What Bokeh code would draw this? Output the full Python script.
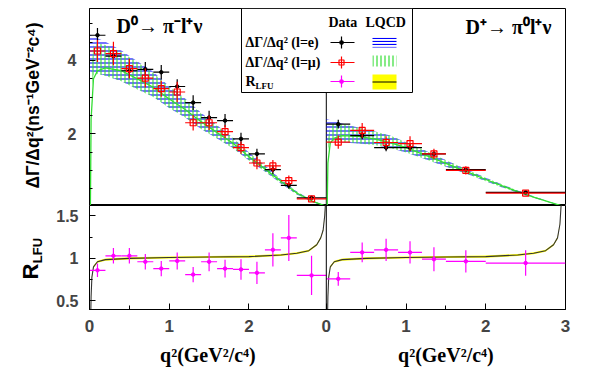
import math
import numpy as np
from bokeh.plotting import figure
from bokeh.models import Range1d, FixedTicker, CustomJSTickFormatter, Span
from bokeh.layouts import column, row
from bokeh.core.properties import value
from bokeh.embed import file_html
from bokeh.resources import INLINE

# ---------------- data ----------------
XL_MAX = 2.97   # q2 max of the D0 panel
XR_MAX = 3.0    # q2 max of the D+ panel

# D0 -> pi- l+ nu
D0_EDGES = [0.0, 0.2, 0.4, 0.6, 0.8, 1.0, 1.2, 1.4, 1.6, 1.8, 2.0, 2.2, 2.4, 2.6, 2.97]
D0_E_RATE = [4.69, 4.12, 3.72, 3.76, 3.68, 3.29, 2.85, 2.44, 2.36, 1.86, 1.45, 1.02, 0.59, 0.25]
D0_E_ERR = [0.20, 0.20, 0.20, 0.20, 0.20, 0.20, 0.20, 0.19, 0.18, 0.17, 0.14, 0.12, 0.09, 0.04]
D0_MU_RATE = [4.26, 4.19, 3.78, 3.52, 3.23, 3.14, 2.30, 2.30, 2.06, 1.62, 1.20, 1.12, 0.72, 0.22]
D0_MU_ERR = [0.30, 0.32, 0.27, 0.26, 0.22, 0.28, 0.21, 0.20, 0.18, 0.17, 0.17, 0.16, 0.14, 0.05]
D0_R = [0.86, 1.03, 1.03, 0.96, 0.88, 0.97, 0.81, 0.96, 0.88, 0.87, 0.83, 1.10, 1.24, 0.80]
D0_R_ERR = [0.08, 0.09, 0.09, 0.09, 0.09, 0.10, 0.09, 0.11, 0.105, 0.12, 0.13, 0.195, 0.27, 0.23]

# D+ -> pi0 l+ nu
DP_EDGES = [0.0, 0.3, 0.6, 0.9, 1.2, 1.5, 2.0, 3.0]
DP_E_RATE = [2.26, 1.95, 1.62, 1.62, 1.45, 1.02, 0.40]
DP_E_ERR = [0.12, 0.10, 0.10, 0.10, 0.08, 0.06, 0.02]
DP_MU_RATE = [1.77, 2.09, 1.76, 1.73, 1.45, 1.00, 0.38]
DP_MU_ERR = [0.18, 0.20, 0.17, 0.20, 0.14, 0.11, 0.03]
DP_R = [0.76, 1.07, 1.10, 1.07, 0.99, 0.965, 0.945]
DP_R_ERR = [0.08, 0.117, 0.13, 0.13, 0.14, 0.13, 0.15]

# LQCD predictions, D0 panel
LQ_D0_Q2 = [0.0, 0.2, 0.4, 0.6, 0.8, 1.0, 1.2, 1.4, 1.6, 1.8, 2.0, 2.2, 2.4, 2.6, 2.8, 2.97]
LQ_D0_E = [4.2, 4.05, 3.85, 3.6, 3.35, 3.0, 2.7, 2.35, 2.05, 1.75, 1.38, 1.05, 0.7, 0.38, 0.15, 0.02]
LQ_D0_E_ERR = [0.5, 0.46, 0.42, 0.38, 0.34, 0.3, 0.26, 0.22, 0.18, 0.14, 0.11, 0.08, 0.06, 0.04, 0.02, 0.0]
LQ_D0_MU_Q2 = [0.0112, 0.02, 0.05, 0.1, 0.2, 0.4, 0.6, 0.8, 1.0, 1.2, 1.4, 1.6, 1.8, 2.0, 2.2, 2.4, 2.6, 2.8, 2.97]
LQ_D0_MU_BAND = [0.0, 3.4, 4.0, 4.05, 4.0, 3.83, 3.58, 3.33, 2.99, 2.69, 2.34, 2.04, 1.74, 1.38, 1.05, 0.7, 0.38, 0.15, 0.02]
LQ_D0_MU_ERR = [0.0, 0.3, 0.4, 0.42, 0.42, 0.4, 0.37, 0.33, 0.29, 0.25, 0.21, 0.17, 0.14, 0.11, 0.08, 0.06, 0.04, 0.02, 0.0]
LQ_D0_MU_LINE = [0.0, 2.4, 3.5, 3.72, 3.8, 3.72, 3.5, 3.27, 2.95, 2.66, 2.33, 2.03, 1.74, 1.37, 1.04, 0.7, 0.38, 0.15, 0.02]

# LQCD predictions, D+ panel
LQ_DP_Q2 = [0.0, 0.1, 0.2, 0.4, 0.6, 0.8, 1.0, 1.2, 1.4, 1.6, 1.8, 2.0, 2.2, 2.4, 2.6, 2.8, 3.0]
LQ_DP_E = [2.1, 2.06, 2.02, 1.95, 1.88, 1.78, 1.63, 1.46, 1.28, 1.1, 0.93, 0.75, 0.58, 0.42, 0.27, 0.13, 0.0]
LQ_DP_E_ERR = [0.3, 0.28, 0.26, 0.22, 0.19, 0.17, 0.14, 0.12, 0.1, 0.08, 0.06, 0.05, 0.04, 0.03, 0.02, 0.01, 0.0]
LQ_DP_MU_Q2 = [0.0112, 0.02, 0.05, 0.1, 0.2, 0.4, 0.6, 0.8, 1.0, 1.2, 1.4, 1.6, 1.8, 2.0, 2.2, 2.4, 2.6, 2.8, 3.0]
LQ_DP_MU_BAND = [0.0, 1.7, 2.0, 2.05, 2.02, 1.95, 1.88, 1.78, 1.63, 1.46, 1.28, 1.1, 0.93, 0.75, 0.58, 0.42, 0.27, 0.13, 0.0]
LQ_DP_MU_ERR = [0.0, 0.15, 0.22, 0.24, 0.24, 0.22, 0.19, 0.17, 0.14, 0.12, 0.1, 0.08, 0.06, 0.05, 0.04, 0.03, 0.02, 0.01, 0.0]
LQ_DP_MU_LINE = [0.0, 1.2, 1.75, 1.88, 1.95, 1.93, 1.86, 1.76, 1.62, 1.45, 1.28, 1.1, 0.93, 0.75, 0.58, 0.42, 0.27, 0.13, 0.0]

# LQCD R_LFU
RL_D0_Q2 = [0.0112, 0.015, 0.02, 0.03, 0.05, 0.1, 0.2, 0.5, 1.0, 1.5, 2.0, 2.4, 2.6, 2.75, 2.85, 2.9, 2.93, 2.95, 2.97]
RL_D0 = [0.0, 0.3, 0.55, 0.78, 0.9, 0.96, 0.985, 1.0, 1.01, 1.015, 1.02, 1.04, 1.06, 1.09, 1.16, 1.24, 1.33, 1.5, 1.8]
RL_DP_Q2 = [0.0112, 0.015, 0.02, 0.03, 0.05, 0.1, 0.2, 0.5, 1.0, 1.5, 2.0, 2.4, 2.6, 2.75, 2.85, 2.9, 2.93, 2.95, 2.97]
RL_DP = [0.0, 0.3, 0.55, 0.78, 0.9, 0.96, 0.985, 1.0, 1.01, 1.015, 1.02, 1.04, 1.06, 1.09, 1.16, 1.24, 1.4, 1.7, 2.0]
RL_ERR = 0.012

X_TICKS_LEFT = [0, 1, 2]
X_TICKS_RIGHT = [0, 1, 2, 3]

# ---------------- styles / geometry ----------------
BLACK = "#000000"
RED = "#ff0000"
MAGENTA = "#ff00ff"
BLUE = "#0000ff"
GREEN = "#33dd33"
YELLOW = "#ffff00"
SANS = "Liberation Sans"
SERIF = "Liberation Serif"

STRIP_W = 50          # left strip holding the y titles
FRAME_W = 476
TOP_FRAME_H = 197
TOP_PAD = 8
BOT_FRAME_H = 104
BOT_BELOW = 32
XT_H = 32
LEFT_BORDER = 39
RIGHT_BORDER = 20
MAIN_W = LEFT_BORDER + FRAME_W + RIGHT_BORDER


def style_fig(p):
    p.grid.visible = False
    p.outline_line_color = BLACK
    p.outline_line_width = 1
    p.outline_line_alpha = 1
    p.background_fill_color = "white"
    p.border_fill_color = "white"


def strip(w, h, x_range=None, min_left=0, min_right=0):
    s = figure(width=w, height=h, x_range=x_range if x_range is not None else Range1d(0, w),
               y_range=Range1d(h, 0), output_backend="svg", toolbar_location=None,
               x_axis_location=None, y_axis_location=None, min_border_left=min_left,
               min_border_right=min_right, min_border_top=0, min_border_bottom=0)
    s.grid.visible = False
    s.outline_line_color = None
    s.background_fill_color = "white"
    s.border_fill_color = "white"
    return s


def arrs(edges):
    e = np.asarray(edges, dtype=float)
    return e[:-1], e[1:], 0.5 * (e[:-1] + e[1:])


def errbars(p, edges, vals, errs, color, rname="default", marker="circle", size=3.5, fill=True):
    lo, hi, c = arrs(edges)
    v = np.asarray(vals)
    er = np.asarray(errs)
    kw = {} if rname == "default" else {"x_range_name": rname}
    p.segment(x0=lo, y0=v, x1=hi, y1=v, line_color=color, line_width=1.2, **kw)
    p.segment(x0=c, y0=v - er, x1=c, y1=v + er, line_color=color, line_width=1.2, **kw)
    if fill:
        p.scatter(x=c, y=v, marker=marker, size=size, fill_color=color, line_color=color, **kw)
    else:
        p.scatter(x=c, y=v, marker=marker, size=size, fill_color=None, line_color=color,
                  line_width=1.2, **kw)


# ---------------- top figure ----------------
top = figure(width=MAIN_W, height=TOP_FRAME_H + TOP_PAD, x_range=Range1d(0, XL_MAX + XR_MAX),
             y_range=Range1d(0.04, 5.42), output_backend="svg", toolbar_location=None,
             x_axis_location=None, min_border_left=LEFT_BORDER, min_border_right=RIGHT_BORDER,
             min_border_top=TOP_PAD, min_border_bottom=0)
style_fig(top)
top.extra_x_ranges = {"R": Range1d(-XL_MAX, XR_MAX), "px": Range1d(0, FRAME_W)}
top.extra_y_ranges = {"py": Range1d(0, TOP_FRAME_H)}

yax = top.yaxis[0]
yax.ticker = FixedTicker(ticks=[2, 4], minor_ticks=[0.5 * i for i in range(1, 11)])
yax.major_tick_in = 6
yax.major_tick_out = 0
yax.minor_tick_in = 3
yax.minor_tick_out = 0
yax.major_label_text_font = SANS
yax.major_label_text_font_style = "bold"
yax.major_label_text_font_size = "16px"
yax.major_label_standoff = 13
yax.axis_line_color = BLACK

top.add_layout(Span(location=XL_MAX, dimension="height", line_color=BLACK, line_width=1,
                    level="underlay"))

# LQCD bands: D0
q = np.asarray(LQ_D0_Q2); c = np.asarray(LQ_D0_E); e = np.asarray(LQ_D0_E_ERR)
top.varea(x=q, y1=c - e, y2=c + e, fill_alpha=0, hatch_pattern="horizontal_line",
          hatch_color=BLUE, hatch_scale=4, hatch_weight=1.1)
q = np.asarray(LQ_D0_MU_Q2); c = np.asarray(LQ_D0_MU_BAND); e = np.asarray(LQ_D0_MU_ERR)
top.varea(x=q, y1=c - e, y2=c + e, fill_alpha=0, hatch_pattern="vertical_line",
          hatch_color=GREEN, hatch_scale=4, hatch_weight=1.1)
top.line(x=LQ_D0_MU_Q2, y=LQ_D0_MU_LINE, line_color=GREEN, line_width=1.3)

# LQCD bands: D+
q = np.asarray(LQ_DP_Q2); c = np.asarray(LQ_DP_E); e = np.asarray(LQ_DP_E_ERR)
top.varea(x=q, y1=c - e, y2=c + e, fill_alpha=0, hatch_pattern="horizontal_line",
          hatch_color=BLUE, hatch_scale=4, hatch_weight=1.1, x_range_name="R")
q = np.asarray(LQ_DP_MU_Q2); c = np.asarray(LQ_DP_MU_BAND); e = np.asarray(LQ_DP_MU_ERR)
top.varea(x=q, y1=c - e, y2=c + e, fill_alpha=0, hatch_pattern="vertical_line",
          hatch_color=GREEN, hatch_scale=4, hatch_weight=1.1, x_range_name="R")
top.line(x=LQ_DP_MU_Q2, y=LQ_DP_MU_LINE, line_color=GREEN, line_width=1.3, x_range_name="R")

# data points
errbars(top, D0_EDGES, D0_E_RATE, D0_E_ERR, BLACK)
errbars(top, D0_EDGES, D0_MU_RATE, D0_MU_ERR, RED, marker="square", size=6, fill=False)
errbars(top, DP_EDGES, DP_E_RATE, DP_E_ERR, BLACK, rname="R")
errbars(top, DP_EDGES, DP_MU_RATE, DP_MU_ERR, RED, rname="R", marker="square", size=6, fill=False)

# legend (pixel ranges inside the frame)
PX = dict(x_range_name="px", y_range_name="py")
top.quad(left=[152], right=[323], bottom=[113], top=[197], fill_color="white",
         line_color=BLACK, line_width=1, **PX)
top.text(x=[239, 276], y=[183, 183], text=["Data", "LQCD"], text_font=value(SERIF),
         text_font_style="bold", text_font_size="14px", text_baseline="middle",
         text_align="left", text_color=BLACK, **PX)
top.text(x=[156, 156, 156], y=[163, 143, 124], text=["ΔΓ/Δq² (l=e)", "ΔΓ/Δq² (l=μ)", "R"],
         text_font=value(SERIF), text_font_style="bold", text_font_size="14px",
         text_baseline="middle", text_align="left", text_color=BLACK, **PX)
top.text(x=[166], y=[120], text=["LFU"], text_font=value(SERIF), text_font_style="bold",
         text_font_size="9px", text_baseline="middle", text_align="left", text_color=BLACK, **PX)
for yy, col, mk, fill in [(163, BLACK, "circle", True), (143, RED, "square", False),
                          (124, MAGENTA, "circle", True)]:
    top.segment(x0=[241], y0=[yy], x1=[265], y1=[yy], line_color=col, line_width=1.2, **PX)
    top.segment(x0=[252], y0=[yy - 6], x1=[252], y1=[yy + 6], line_color=col, line_width=1.2, **PX)
    top.scatter(x=[252], y=[yy], marker=mk, size=5 if mk == "square" else 3.5,
                fill_color=col if fill else None, line_color=col, line_width=1.2, **PX)
top.quad(left=[283], right=[307], bottom=[158], top=[168], fill_alpha=0, line_alpha=0,
         hatch_pattern="horizontal_line", hatch_color=BLUE, hatch_scale=3, hatch_weight=1.2, **PX)
top.quad(left=[283], right=[307], bottom=[139], top=[150], fill_alpha=0, line_alpha=0,
         hatch_pattern="vertical_line", hatch_color=GREEN, hatch_scale=4, hatch_weight=1.2, **PX)
top.quad(left=[283], right=[307], bottom=[116], top=[131], fill_color=YELLOW, line_alpha=0, **PX)
top.segment(x0=[283], y0=[123.5], x1=[307], y1=[123.5], line_color=BLACK, line_width=1, **PX)

# panel titles
top.text(x=[27], y=[180], text=["D⁰→ π⁻l⁺ν"], text_font=value(SERIF), text_font_style="bold",
         text_font_size="20px", text_baseline="middle", text_align="left", **PX)
top.text(x=[376], y=[179], text=["D⁺→ π⁰l⁺ν"], text_font=value(SERIF), text_font_style="bold",
         text_font_size="20px", text_baseline="middle", text_align="left", **PX)

# ---------------- bottom figure ----------------
bot = figure(width=MAIN_W, height=BOT_FRAME_H + BOT_BELOW, x_range=Range1d(0, XL_MAX + XR_MAX),
             y_range=Range1d(0.4, 1.62), output_backend="svg", toolbar_location=None,
             min_border_left=LEFT_BORDER, min_border_right=RIGHT_BORDER, min_border_top=0,
             min_border_bottom=BOT_BELOW)
style_fig(bot)
bot.extra_x_ranges = {"R": Range1d(-XL_MAX, XR_MAX)}

xticks = list(X_TICKS_LEFT) + [XL_MAX + t for t in X_TICKS_RIGHT]
xminor = [t + 0.5 for t in X_TICKS_LEFT] + [XL_MAX + t + 0.5 for t in X_TICKS_RIGHT[:-1]]
xax = bot.xaxis[0]
xax.ticker = FixedTicker(ticks=xticks, minor_ticks=xminor)
xax.formatter = CustomJSTickFormatter(args=dict(off=XL_MAX),
                                      code="return (tick < off - 0.01 ? tick : tick - off).toFixed(0);")
xax.major_tick_in = 6
xax.major_tick_out = 0
xax.minor_tick_in = 4
xax.minor_tick_out = 0
xax.major_label_text_font = SANS
xax.major_label_text_font_style = "bold"
xax.major_label_text_font_size = "17px"
xax.major_label_standoff = 10

ybx = bot.yaxis[0]
ybx.ticker = FixedTicker(ticks=[0.5, 1.0, 1.5], minor_ticks=[0.75, 1.25])
ybx.major_tick_in = 6
ybx.major_tick_out = 0
ybx.minor_tick_in = 3
ybx.minor_tick_out = 0
ybx.major_label_text_font = SANS
ybx.major_label_text_font_style = "bold"
ybx.major_label_text_font_size = "16px"
ybx.major_label_standoff = 11

bot.add_layout(Span(location=XL_MAX, dimension="height", line_color=BLACK, line_width=1))

for qq, rr, rn in [(RL_D0_Q2, RL_D0, "default"), (RL_DP_Q2, RL_DP, "R")]:
    kw = {} if rn == "default" else {"x_range_name": rn}
    r = np.asarray(rr)
    bot.varea(x=qq, y1=r - RL_ERR, y2=r + RL_ERR, fill_color=YELLOW, fill_alpha=1, **kw)
    bot.line(x=qq, y=rr, line_color="#333333", line_width=1.1, **kw)

errbars(bot, D0_EDGES, D0_R, D0_R_ERR, MAGENTA)
errbars(bot, DP_EDGES, DP_R, DP_R_ERR, MAGENTA, rname="R")

# ---------------- x-title strip (shares the x ranges) ----------------
xt = strip(MAIN_W, XT_H, x_range=bot.x_range, min_left=LEFT_BORDER, min_right=RIGHT_BORDER)
xt.extra_x_ranges = {"R": bot.extra_x_ranges["R"]}
xt.text(x=[XL_MAX / 2], y=[13], text=["q²(GeV²/c⁴)"], text_font=value(SERIF),
        text_font_style="bold", text_font_size="20px", text_align="center", text_baseline="middle")
xt.text(x=[XR_MAX / 2], y=[13], text=["q²(GeV²/c⁴)"], text_font=value(SERIF),
        text_font_style="bold", text_font_size="20px", text_align="center", text_baseline="middle",
        x_range_name="R")

# ---------------- y-title strips ----------------
yt_top = strip(STRIP_W, TOP_FRAME_H + TOP_PAD)
yt_top.text(x=[32], y=[105], text=["ΔΓ/Δq²(ns⁻¹GeV⁻²c⁴)"], angle=math.pi / 2,
            text_font=value(SANS), text_font_style="bold", text_font_size="17.5px",
            text_align="center", text_baseline="middle")
yt_bot = strip(STRIP_W, BOT_FRAME_H + BOT_BELOW + XT_H)
yt_bot.text(x=[30], y=[66], text=["R"], angle=math.pi / 2, text_font=value(SANS),
            text_font_style="bold", text_font_size="22px", text_align="center",
            text_baseline="middle")
yt_bot.text(x=[37], y=[45], text=["LFU"], angle=math.pi / 2, text_font=value(SANS),
            text_font_style="bold", text_font_size="13px", text_align="center",
            text_baseline="middle")

layout = row(column(yt_top, yt_bot, spacing=0), column(top, bot, xt, spacing=0), spacing=0)
open("out.html", "w").write(file_html(layout, INLINE))
